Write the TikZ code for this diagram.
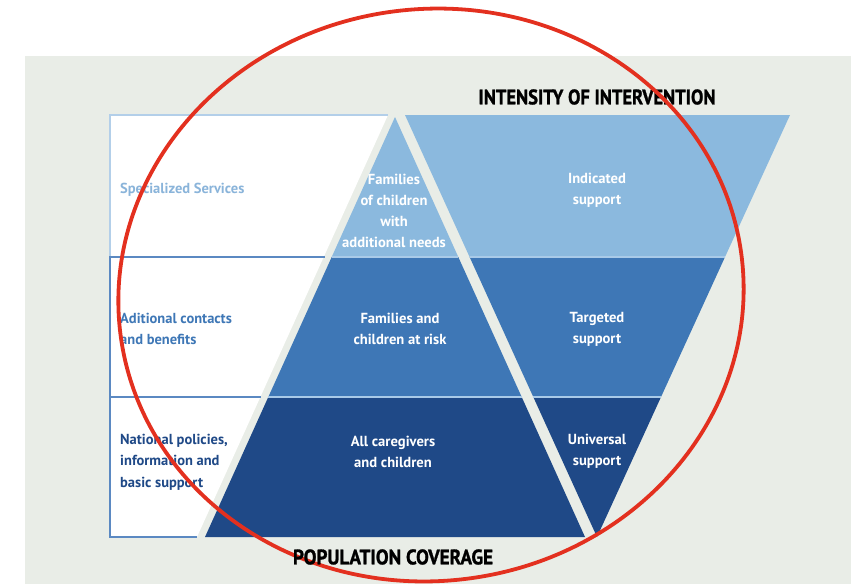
\documentclass[tikz,border=0pt]{standalone}
\usepackage{fontspec}
\setmainfont{PT Sans}
\newfontfamily\heavyfont{PT Sans Bold}[FakeBold=1.3]
\usepackage{graphicx}
\definecolor{bgc}{HTML}{E9EDE7}
\definecolor{bandL}{HTML}{8BB9DE}
\definecolor{bandM}{HTML}{3E77B6}
\definecolor{bandD}{HTML}{1F4987}
\definecolor{sepc}{HTML}{A9CAE8}
\definecolor{lineL}{HTML}{B3CFE9}
\definecolor{lineM}{HTML}{5B89C2}
\definecolor{txtL}{HTML}{8AB4DA}
\definecolor{redc}{HTML}{E3301F}
\begin{document}
\begin{tikzpicture}[x=1pt,y=-1pt,
  lab/.style={font=\bfseries\fontsize{14.5}{21.5}\selectfont, align=left, anchor=west, inner sep=0pt},
  inlab/.style={font=\bfseries\fontsize{14.6}{21}\selectfont, align=center, text=white, inner sep=0pt},
  ttl/.style={font=\heavyfont\fontsize{21}{22}\selectfont, text=black, inner sep=0pt},
  sep/.style={draw=sepc, line width=1.2pt},
  boxline/.style={line width=1.3pt}]
\useasboundingbox (0,0) rectangle (861,584);
% background
\fill[bgc] (25,56) rectangle (851,584);
% left white box
\fill[white] (110,115) -- (388,115) -- (197,537) -- (110,537) -- cycle;
\draw[boxline, draw=lineL] (324.8,257) -- (110,257) -- (110,115) -- (388,115);
\draw[boxline, draw=lineM] (324.8,257) -- (110,257) -- (110,397) -- (261.4,397);
\draw[boxline, draw=lineM] (110,397) -- (110,537) -- (197,537);
% upward triangle bands
\fill[bandL] (395,117) -- (331.7,257) -- (458.3,257) -- cycle;
\fill[bandM] (331.7,257) -- (268.3,397) -- (521.7,397) -- (458.3,257) -- cycle;
\fill[bandD] (268.3,397) -- (205,537) -- (585,537) -- (521.7,397) -- cycle;
% downward triangle bands
\fill[bandL] (405,115) -- (790,115) -- (725,257) -- (469.6,257) -- cycle;
\fill[bandM] (469.6,257) -- (725,257) -- (661,397) -- (533.3,397) -- cycle;
\fill[bandD] (533.3,397) -- (661,397) -- (597,537) -- cycle;
% separators
\draw[sep] (331.7,257) -- (458.3,257);
\draw[sep] (469.6,257) -- (725,257);
\draw[sep] (268.3,397) -- (521.7,397);
\draw[sep] (533.3,397) -- (661,397);
% left labels
\node[lab, text=txtL] (spec) at (120,190) {Specialized Services};
\node[lab, text=bandM] (adit) at (120,329) {Aditional contacts\\and benefits};
\node[lab, text=bandD] (nat) at (120,462) {National policies,\\information and\\basic support};
% inner labels
\node[inlab] (fam1) at (394,211) {Families\\of children\\with\\additional needs};
\node[inlab] (fam2) at (400,329) {Families and\\children at risk};
\node[inlab] (all) at (393,451.5) {All caregivers\\and children};
\node[inlab] (ind) at (597,190.5) {Indicated\\support};
\node[inlab] (tar) at (597,329) {Targeted\\support};
\node[inlab] (uni) at (597,451.5) {Universal\\support};
% titles
\node[ttl] (intens) at (597,97) {\scalebox{0.88}[1]{INTENSITY OF INTERVENTION}};
% red ellipse
\draw[redc, line width=3.8pt, rotate around={7:(431,295)}] (431,295) ellipse [x radius=313pt, y radius=286pt];
\node[ttl] (popc) at (393,557) {\scalebox{0.91}[1]{POPULATION COVERAGE}};
\end{tikzpicture}
\end{document}
